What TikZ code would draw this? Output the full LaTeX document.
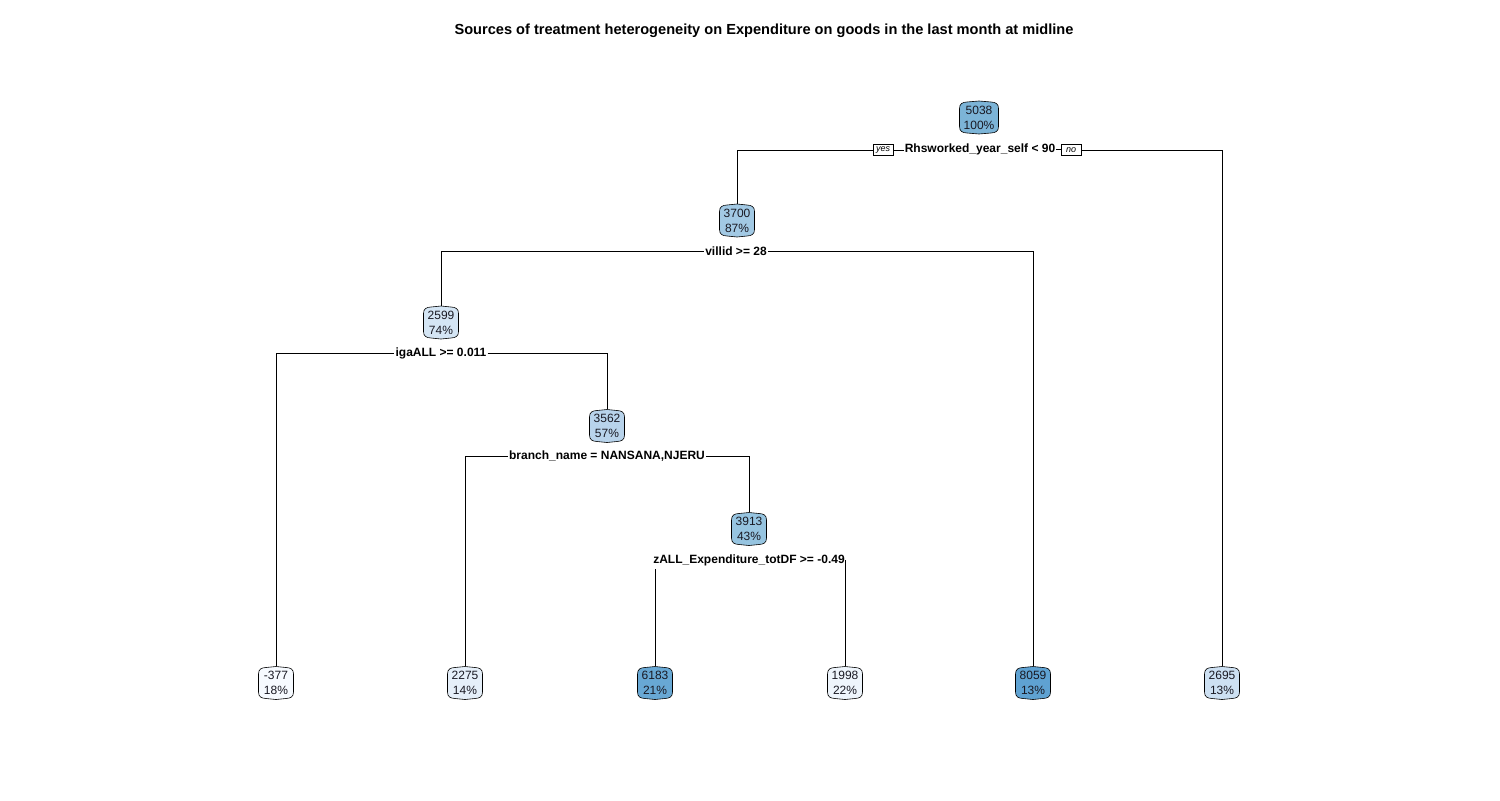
\documentclass[tikz,border=0pt]{standalone}
\usepackage{fontspec}
\setmainfont{Liberation Sans}
\pgfdeclarelayer{background}
\pgfsetlayers{background,main}
\definecolor{c8059}{RGB}{95,162,210}
\definecolor{c6183}{RGB}{104,168,212}
\definecolor{c5038}{RGB}{124,180,215}
\definecolor{c3913}{RGB}{150,196,224}
\definecolor{c3700}{RGB}{162,201,228}
\definecolor{c3562}{RGB}{184,211,235}
\definecolor{c2695}{RGB}{205,224,242}
\definecolor{c2599}{RGB}{212,229,244}
\definecolor{c2275}{RGB}{229,239,249}
\definecolor{c1998}{RGB}{238,245,252}
\definecolor{cm377}{RGB}{246,250,255}
\definecolor{txt}{RGB}{25,25,35}
% outline of an rpart-style box: #1 node name, #2 colour, #3 half width
\newcommand{\rpbox}[3]{%
  \begin{scope}[shift={(#1.center)}]
  \draw[boxline, fill=#2]
    (-#3,-9) .. controls (-#3,-14) and (-#3+3,-15.2) .. (-#3+7.5,-15.5)
    -- (0,-16.5) -- (#3-7.5,-15.5)
    .. controls (#3-3,-15.2) and (#3,-14) .. (#3,-9)
    -- (#3,9) .. controls (#3,14) and (#3-3,15.2) .. (#3-7.5,15.5)
    -- (0,16.5) -- (-#3+7.5,15.5)
    .. controls (-#3+3,15.2) and (-#3,14) .. (-#3,9) -- cycle;
  \end{scope}}
\begin{document}
\begin{tikzpicture}[x=1bp,y=-1bp,
  treenode/.style={minimum width=35bp, minimum height=33bp, inner xsep=4bp, inner ysep=1bp,
    align=center, text=txt, font=\fontsize{12bp}{15bp}\selectfont},
  boxline/.style={draw=black, line width=0.6bp},
  splitlabel/.style={inner xsep=1bp, inner ysep=3bp,
    font=\fontsize{12bp}{14bp}\selectfont\bfseries, text=black},
  yesno/.style={draw=black, line width=0.5bp, fill=white, inner xsep=1.5bp, inner ysep=0.5bp,
    minimum width=20bp, minimum height=11bp, font=\fontsize{9bp}{10bp}\selectfont\itshape},
  edge/.style={draw=black, line width=0.7bp}]
\useasboundingbox (0,0) rectangle (1500,800);
\node[font=\fontsize{14.6bp}{17bp}\selectfont\bfseries] (title) at (764,31)
  {Sources of treatment heterogeneity on Expenditure on goods in the last month at midline};

% nodes
\node[treenode, minimum width=39bp] (n5038) at (979,117.5) {5038\\100\%};
\node[treenode] (n3700) at (737,220.5) {3700\\87\%};
\node[treenode] (n2599) at (441,322.5) {2599\\74\%};
\node[treenode] (n3562) at (607,426) {3562\\57\%};
\node[treenode] (n3913) at (749,529) {3913\\43\%};
\node[treenode] (nm377) at (276,683) {-377\\18\%};
\node[treenode] (n2275) at (465,683) {2275\\14\%};
\node[treenode] (n6183) at (655,683) {6183\\21\%};
\node[treenode] (n1998) at (845,683) {1998\\22\%};
\node[treenode] (n8059) at (1033,683) {8059\\13\%};
\node[treenode] (n2695) at (1222,683) {2695\\13\%};

% split labels
\node[splitlabel] (s1) at (980,149) {Rhsworked\_year\_self < 90};
\node[yesno] (yes) at (883,150) {yes};
\node[yesno] (no) at (1071,150) {no};
\node[splitlabel] (s2) at (736,251.5) {villid >= 28};
\node[splitlabel] (s3) at (441,353) {igaALL >= 0.011};
\node[splitlabel] (s4) at (607,456.5) {branch\_name = NANSANA,NJERU};
\node[splitlabel] (s5) at (749,560) {zALL\_Expenditure\_totDF >= -0.49};

\begin{pgfonlayer}{background}
\rpbox{n5038}{c5038}{19.5}
\rpbox{n3700}{c3700}{17.5}
\rpbox{n2599}{c2599}{17.5}
\rpbox{n3562}{c3562}{17.5}
\rpbox{n3913}{c3913}{17.5}
\rpbox{nm377}{cm377}{17.5}
\rpbox{n2275}{c2275}{17.5}
\rpbox{n6183}{c6183}{17.5}
\rpbox{n1998}{c1998}{17.5}
\rpbox{n8059}{c8059}{17.5}
\rpbox{n2695}{c2695}{17.5}
% connectors
\draw[edge] (n3700.north) |- (yes.west);
\draw[edge] (yes.east) -- (yes.east -| s1.west);
\draw[edge] (s1.east) -- (s1.east -| no.west);
\draw[edge] (no.east) -| (n2695.north);
\draw[edge] (n2599.north) |- (s2.west);
\draw[edge] (s2.east) -| (n8059.north);
\draw[edge] (nm377.north) |- (s3.west);
\draw[edge] (s3.east) -| (n3562.north);
\draw[edge] (n2275.north) |- (s4.west);
\draw[edge] (s4.east) -| (n3913.north);
\draw[edge] (n6183.north) -- (n6183.north |- s5.south);
\draw[edge] (n1998.north) -- (n1998.north |- s5.center);
\end{pgfonlayer}
\end{tikzpicture}
\end{document}
